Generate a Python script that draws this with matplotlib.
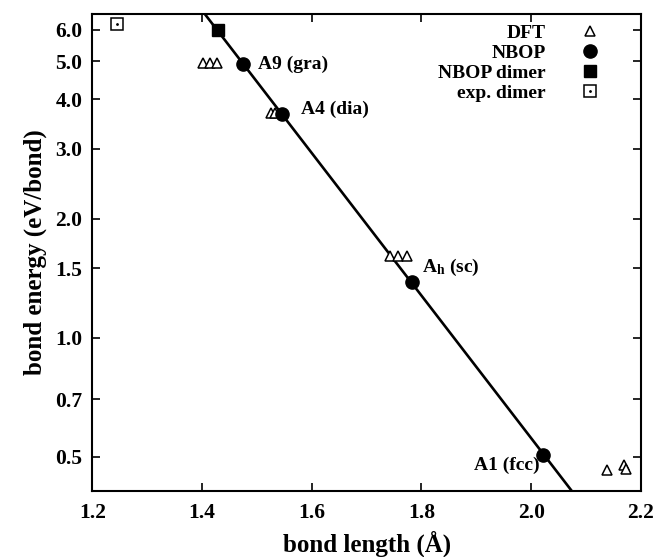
import matplotlib
matplotlib.use("Agg")
import matplotlib.pyplot as plt
from matplotlib.ticker import FixedLocator, FixedFormatter, NullLocator

plt.rcParams['font.family'] = ['Liberation Serif', 'DejaVu Serif']
plt.rcParams['font.weight'] = 'bold'
plt.rcParams['mathtext.fontset'] = 'custom'
plt.rcParams['mathtext.rm'] = 'Liberation Serif:bold'
plt.rcParams['mathtext.it'] = 'Liberation Serif:bold'

# DFT bond lengths / energies
dft_x = [1.402, 1.415, 1.428, 1.525, 1.533, 1.743, 1.757, 1.773, 2.138, 2.170, 2.173]
dft_y = [4.95, 4.95, 4.95, 3.70, 3.70, 1.61, 1.61, 1.61, 0.464, 0.478, 0.466]

# NBOP bulk structures
nbop_x = [1.475, 1.545, 1.783, 2.021]
nbop_y = [4.92, 3.68, 1.38, 0.505]
nbop_names = ["A9 (gra)", "A4 (dia)", r"A$_\mathregular{h}$ (sc)", "A1 (fcc)"]

# dimers
nbop_dimer_x = [1.429]
nbop_dimer_y = [6.0]
exp_dimer_x = [1.245]
exp_dimer_y = [6.21]

# fit line ends
line_x = [1.40, 2.08]
line_y = [6.72, 0.40]

yticks = [0.5, 0.7, 1.0, 1.5, 2.0, 3.0, 4.0, 5.0, 6.0]
ytick_labels = ["0.5", "0.7", "1.0", "1.5", "2.0", "3.0", "4.0", "5.0", "6.0"]
xticks = [1.2, 1.4, 1.6, 1.8, 2.0, 2.2]

fig = plt.figure(figsize=(6.54, 5.57), dpi=100)
ax = fig.add_axes([0.141, 0.1185, 0.839, 0.8565])

ax.plot(line_x, line_y, color='black', lw=1.9, zorder=2)
h_dft, = ax.plot(dft_x, dft_y, ls='none', marker='^', ms=7, mfc='white',
                 mec='black', mew=1.1, zorder=3, label='DFT')
h_nbop, = ax.plot(nbop_x, nbop_y, ls='none', marker='o', ms=9.5, color='black',
                  zorder=4, label='NBOP')
h_nd, = ax.plot(nbop_dimer_x, nbop_dimer_y, ls='none', marker='s', ms=9,
                color='black', zorder=4, label='NBOP dimer')
h_ed, = ax.plot(exp_dimer_x, exp_dimer_y, ls='none', marker='s', ms=8.5,
                mfc='white', mec='black', mew=1.1, zorder=4)
h_dot, = ax.plot(exp_dimer_x, exp_dimer_y, ls='none', marker='.', ms=2,
                 color='black', zorder=5)

offsets = [(11, 0), (14, 3), (7, 11), (-2, -7)]
for x, y, name, off in zip(nbop_x, nbop_y, nbop_names, offsets):
    ha = 'left' if off[0] > 0 else 'right'
    ax.annotate(name, (x, y), xytext=off, textcoords='offset points',
                ha=ha, va='center', fontsize=14, fontweight='bold', zorder=3)

ax.set_yscale('log')
ax.set_xlim(1.2, 2.2)
ax.set_ylim(0.41, 6.58)
ax.yaxis.set_major_locator(FixedLocator(yticks))
ax.yaxis.set_major_formatter(FixedFormatter(ytick_labels))
ax.yaxis.set_minor_locator(NullLocator())
ax.set_xticks(xticks)
ax.set_xticklabels([f"{v:.1f}" for v in xticks])
ax.tick_params(which='both', direction='in', top=True, right=True,
               length=6, width=1.2, labelsize=15.5)
ax.tick_params(axis='y', pad=7)
ax.tick_params(axis='x', pad=9)
for lab in ax.get_xticklabels() + ax.get_yticklabels():
    lab.set_fontweight('bold')
for s in ax.spines.values():
    s.set_linewidth(1.5)

ax.set_xlabel("bond length (Å)", fontsize=18, fontweight='bold', labelpad=5)
ax.set_ylabel("bond energy (eV/bond)", fontsize=18, fontweight='bold', labelpad=6)

leg = ax.legend([h_dft, h_nbop, h_nd, (h_ed, h_dot)],
                ['DFT', 'NBOP', 'NBOP dimer', 'exp. dimer'],
                loc='upper right', bbox_to_anchor=(0.94, 0.995), borderaxespad=0,
                frameon=False, markerfirst=False,
                fontsize=14, handlelength=1.0, handletextpad=1.8,
                labelspacing=0.12)
for t in leg.get_texts():
    t.set_fontweight('bold')

fig.savefig("out.png", dpi=100)
